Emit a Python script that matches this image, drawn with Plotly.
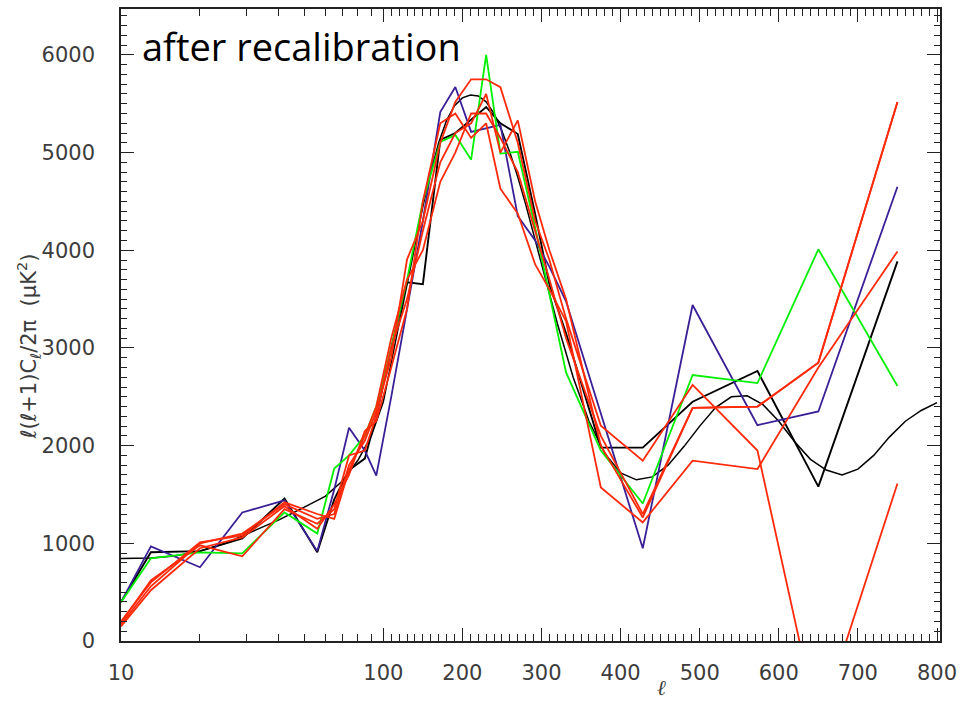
import numpy as np
import plotly.graph_objects as go

# ---------------- data ----------------
ell_bins = [10, 13, 20, 29, 42, 56, 65, 74, 85, 94, 110, 130, 150, 172, 191, 211,
            230, 248, 270, 292, 310, 331, 375, 428, 491, 573, 650, 750]

purple = [398, 969, 755, 1316, 1440, 920, 1550, 2183, 1950, 1693, 2500, 3400, 4300, 5416,
          5671, 5212, 5250, 5284, 4350, 4100, 3830, 3478, 2330, 949, 3440, 2210, 2350, 4651]
green = [398, 847, 908, 898, 1316, 1100, 1765, 1900, 2100, 2400, 3000, 3700, 4500, 5110,
         5180, 4927, 6000, 4990, 5008, 4230, 3550, 2750, 1950, 1408, 2723, 2640, 4010, 2611]
black_binned = [398, 908, 920, 1050, 1459, 908, 1450, 1750, 1867, 2300, 3000, 3672, 3652, 5130,
                5200, 5335, 5467, 5300, 5190, 4370, 3650, 3150, 1980, 1980, 2450, 2764, 1580, 3886]
red1 = [170, 560, 1000, 1100, 1400, 1250, 1300, 1800, 2050, 2350, 2900, 3907, 4300, 5100,
        5518, 5750, 5750, 5670, 5100, 4300, 3900, 3300, 2203, 1846, 2621, 1950, -880, 1612]
red2 = [190, 620, 980, 867, 1350, 1200, 1350, 1900, 1950, 2300, 3000, 3500, 4200, 4900,
        5200, 5300, 5600, 5000, 5330, 4500, 4000, 3500, 2000, 1265, 2387, 2400, 2850, 5518]
red3 = [150, 520, 950, 1060, 1380, 1150, 1400, 1700, 2150, 2250, 2800, 3400, 4500, 5300,
        5400, 5150, 5300, 4630, 4376, 3855, 3600, 3274, 1571, 1214, 1846, 1760, 2800, 3988]
red4 = [200, 600, 1010, 1080, 1420, 1300, 1250, 1750, 2100, 2400, 3100, 3700, 4000, 4700,
        5000, 5400, 5400, 5150, 4800, 4200, 3700, 3100, 2100, 1300, 2387, 2400, 2850, 5518]

ell_model = [10, 13, 16, 20, 25, 30, 40, 50, 60, 70, 80, 90, 100, 110, 120, 130, 140, 150,
             160, 170, 180, 190, 200, 210, 220, 230, 240, 250, 260, 270, 280, 290, 300, 320,
             340, 360, 380, 400, 420, 440, 460, 480, 500, 520, 540, 560, 580, 600, 620, 640,
             660, 680, 700, 720, 740, 760, 780, 800]
model = [845, 850, 870, 920, 1000, 1090, 1240, 1370, 1480, 1640, 1850, 2100, 2450, 2850,
         3250, 3650, 4050, 4450, 4800, 5100, 5330, 5480, 5560, 5590, 5580, 5520, 5400, 5220,
         5000, 4750, 4470, 4170, 3850, 3250, 2700, 2250, 1920, 1720, 1650, 1680, 1800, 1990,
         2200, 2390, 2500, 2510, 2420, 2250, 2040, 1860, 1750, 1700, 1760, 1900, 2090, 2250,
         2360, 2440]

x_tick_values = [10, 100, 200, 300, 400, 500, 600, 700, 800]
x_tick_labels = ["10", "100", "200", "300", "400", "500", "600", "700", "800"]
y_tick_values = [0, 1000, 2000, 3000, 4000, 5000, 6000]

# ---------------- mixed log / linear axis transform ----------------
K = 263.0 / 79.3   # width of the 10-100 log decade, in units of 100 (linear part)


def tx(ell):
    ell = np.asarray(ell, dtype=float)
    return np.where(ell <= 100, (np.log10(np.clip(ell, 1e-9, None)) - 1.0) * K,
                    K + (ell - 100.0) / 100.0)


minor_ell = [v for v in range(20, 100, 10)] + [v for v in range(110, 800, 10) if v % 100 != 0]

PURPLE = "#3a1f96"
GREEN = "#00f000"
RED = "#ff2a0a"
BLACK = "#000000"

fig = go.Figure()

def add(xv, yv, color, width=1.8):
    fig.add_trace(go.Scatter(x=tx(xv), y=yv, mode="lines",
                             line=dict(color=color, width=width), showlegend=False,
                             hoverinfo="skip"))

add(ell_model, model, BLACK, 1.5)
add(ell_bins, black_binned, BLACK, 1.9)
add(ell_bins, purple, PURPLE)
add(ell_bins, green, GREEN)
add(ell_bins, red1, RED)
add(ell_bins, red2, RED)
add(ell_bins, red3, RED)
add(ell_bins, red4, RED)

tickfont = dict(family="DejaVu Sans", size=21, color="#3c3c3c")

fig.update_layout(
    width=964, height=704,
    margin=dict(l=121, r=21, t=7, b=63),
    paper_bgcolor="white", plot_bgcolor="white",
    xaxis=dict(
        range=[0, float(tx(800)) + 3 / 79.3],
        tickmode="array", tickvals=tx(x_tick_values).tolist(), ticktext=x_tick_labels,
        ticks="inside", ticklen=13, tickwidth=1.2, tickcolor="#222",
        minor=dict(tickmode="array", tickvals=tx(minor_ell).tolist(), ticks="inside",
                   ticklen=7, tickwidth=1, tickcolor="#222", showgrid=False),
        showline=True, linecolor="#222", linewidth=1.5, mirror="allticks",
        showgrid=False, zeroline=False, tickfont=tickfont, ticklabelstandoff=12,
    ),
    yaxis=dict(
        range=[0, 6470],
        tickmode="array", tickvals=y_tick_values,
        ticktext=[str(v) for v in y_tick_values],
        ticks="inside", ticklen=13, tickwidth=1.2, tickcolor="#222",
        minor=dict(dtick=100, ticks="inside", ticklen=6, tickwidth=1, tickcolor="#222",
                   showgrid=False),
        showline=True, linecolor="#222", linewidth=1.5, mirror="allticks",
        showgrid=False, zeroline=False, tickfont=tickfont, ticklabelstandoff=20,
    ),
    annotations=[
        dict(text="after recalibration", xref="paper", yref="paper",
             x=(140 - 121) / 822, y=(641 - 44) / 634, xanchor="left", yanchor="middle",
             showarrow=False,
             font=dict(family="Comic Sans MS, Open Sans, sans-serif", size=38, color="black")),
        dict(text="ℓ(ℓ+1)C<sub>ℓ</sub>/2π  (μK<sup>2</sup>)", xref="paper", yref="paper",
             x=(28 - 121) / 822, y=(641 - 345) / 634, xanchor="center", yanchor="middle",
             textangle=-90, showarrow=False,
             font=dict(family="DejaVu Sans", size=21, color="#3c3c3c")),
        dict(text="<i>ℓ</i>", xref="paper", yref="paper",
             x=(663 - 121) / 822, y=(641 - 688) / 634, xanchor="center", yanchor="middle",
             showarrow=False, font=dict(family="DejaVu Serif", size=21, color="#3c3c3c")),
    ],
)

fig.write_html("out.html")
